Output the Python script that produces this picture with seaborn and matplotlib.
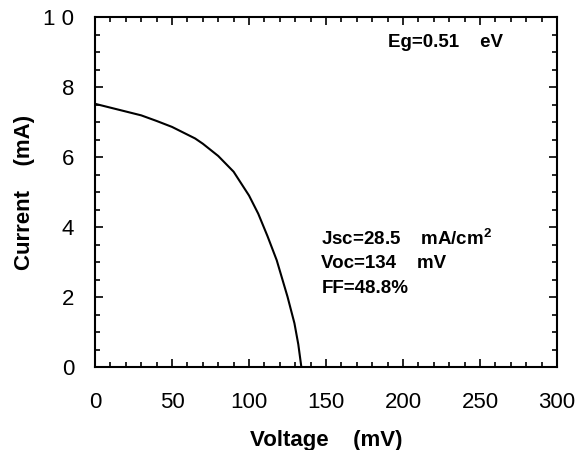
import matplotlib
matplotlib.use("Agg")
import matplotlib.pyplot as plt
import seaborn as sns
import pandas as pd
from matplotlib.ticker import MultipleLocator

voltage_mV = [0, 10, 20, 30, 40, 50, 60, 65, 70, 80, 90, 100, 106, 112, 118, 125, 129.5, 132, 134]
current_mA = [7.52, 7.41, 7.30, 7.19, 7.03, 6.86, 6.64, 6.53, 6.38, 6.03, 5.58, 4.90, 4.38, 3.74, 3.05, 2.01, 1.25, 0.65, 0.0]

x_ticks = [0, 50, 100, 150, 200, 250, 300]
y_ticks = [0, 2, 4, 6, 8, 10]
eg_text = "Eg=0.51    eV"
param_lines = ["Jsc=28.5    mA/cm$^{\\mathbf{2}}$", "Voc=134    mV", "FF=48.8%"]

sns.set_style("ticks")
plt.rcParams['font.family'] = ['Liberation Sans', 'DejaVu Sans']
plt.rcParams['mathtext.fontset'] = 'custom'
plt.rcParams['mathtext.bf'] = 'Liberation Sans:bold'
plt.rcParams['mathtext.rm'] = 'Liberation Sans:bold'
plt.rcParams['text.color'] = 'black'
plt.rcParams['axes.labelcolor'] = 'black'
plt.rcParams['xtick.color'] = 'black'
plt.rcParams['ytick.color'] = 'black'

fig = plt.figure(figsize=(5.8, 4.5), dpi=100)
ax = fig.add_axes([95/580, 1-367/450, (557-95)/580, (367-17)/450])

df = pd.DataFrame({"V": voltage_mV, "I": current_mA})
sns.lineplot(data=df, x="V", y="I", ax=ax, color="black", linewidth=1.5, sort=False)

ax.set_xlim(0, 300)
ax.set_ylim(0, 10)
ax.set_xticks(x_ticks)
ax.set_yticks(y_ticks)
ax.set_xticklabels([str(v) for v in x_ticks])
ax.set_yticklabels(["1 0" if v == 10 else str(v) for v in y_ticks])
ax.xaxis.set_minor_locator(MultipleLocator(10))
ax.yaxis.set_minor_locator(MultipleLocator(0.5))
ax.tick_params(which="both", direction="in", top=True, right=True, width=1.2, colors="black")
ax.tick_params(which="major", length=6, labelsize=16)
ax.tick_params(axis="x", which="major", pad=18)
ax.tick_params(axis="y", which="major", pad=15)
ax.tick_params(which="minor", length=3.5)
for s in ax.spines.values():
    s.set_linewidth(1.5)
    s.set_color("black")

ax.set_xlabel("Voltage    (mV)", fontsize=16, fontweight="bold", labelpad=12, color="black")
ax.set_ylabel("Current    (mA)", fontsize=16, fontweight="bold", labelpad=6, color="black")

ax.text(190, 9.28, eg_text, fontsize=13.5, fontweight="bold", va="center", ha="left", color="black")
for i, line in enumerate(param_lines):
    ax.text(147, 3.67 - 0.72*i, line, fontsize=13.5, fontweight="bold", va="center", ha="left", color="black")

fig.savefig("out.png", dpi=100)
